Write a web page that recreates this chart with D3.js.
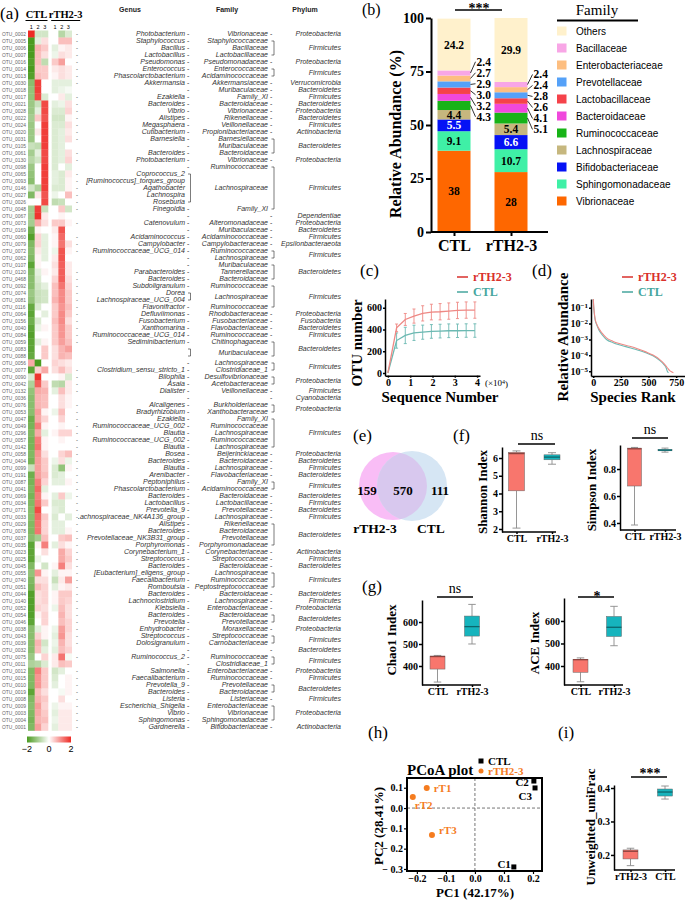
<!DOCTYPE html>
<html><head><meta charset="utf-8">
<script src="https://cdn.jsdelivr.net/npm/d3@7"></script>
<style>body{margin:0;background:#fff}svg{display:block}</style>
</head><body>
<script>
// ================= DATA =================
// ---- (a) heatmap ----
const otuIds = ["OTU_0002","OTU_0005","OTU_0006","OTU_0007","OTU_0016","OTU_0014","OTU_0013","OTU_0030","OTU_0018","OTU_0017",
"OTU_0021","OTU_0028","OTU_0022","OTU_0024","OTU_0020","OTU_0031","OTU_0105","OTU_0061","OTU_0130","OTU_0098",
"OTU_0065","OTU_0093","OTU_0146","OTU_0027","OTU_0026","OTU_0048","OTU_0067","OTU_0073","OTU_0169","OTU_0060",
"OTU_0079","OTU_0072","OTU_0062","OTU_0107","OTU_0120","OTU_0468","OTU_0092","OTU_0074","OTU_0081","OTU_0116",
"OTU_0064","OTU_0156","OTU_0040","OTU_0084","OTU_0059","OTU_0083","OTU_0088","OTU_0056","OTU_0077","OTU_0090",
"OTU_0042","OTU_0132","OTU_0036","OTU_0076","OTU_0053","OTU_0047","OTU_0049","OTU_0296","OTU_0057","OTU_0142",
"OTU_0058","OTU_0404","OTU_0099","OTU_0191","OTU_0087","OTU_0041","OTU_0069","OTU_0034","OTU_0771","OTU_0033",
"OTU_0029","OTU_0078","OTU_0037","OTU_0035","OTU_0023","OTU_0025","OTU_0045","OTU_0055","OTU_0740","OTU_0051",
"OTU_0044","OTU_0140","OTU_0052","OTU_0054","OTU_0046","OTU_0038","OTU_0043","OTU_0039","OTU_0032","OTU_0075",
"OTU_0011","OTU_0012","OTU_0015","OTU_0010","OTU_0019","OTU_0008","OTU_0009","OTU_0003","OTU_0004","OTU_0001"];
const genera = ["Photobacterium","Staphylococcus","Bacillus","Lactobacillus","Pseudomonas","Enterococcus","Phascolarctobacterium","Akkermansia","","Ezakiella",
"Bacteroides","Vibrio","Alistipes","Megasphaera","Cutibacterium","Barnesiella","","Bacteroides","Photobacterium","",
"Coprococcus_2","[Ruminococcus]_torques_group","Agathobacter","Lachnospira","Roseburia","Finegoldia","","Catenovulum","","Acidaminococcus",
"Campylobacter","Ruminococcaceae_UCG_014","","","Parabacteroides","Bacteroides","Subdoligranulum","Dorea","Lachnospiraceae_UCG_004","Flavonifractor",
"Defluviimonas","Fusobacterium","Xanthomarina","Ruminococcaceae_UCG_014","Sediminibacterium","","","","Clostridium_sensu_stricto_1","Bilophila",
"Asaia","Dialister","","Alcaligenes","Bradyrhizobium","Ezakiella","Ruminococcaceae_UCG_002","Blautia","Ruminococcaceae_UCG_002","Blautia",
"Bosea","Bacteroides","Blautia","Arenibacter","Peptoniphilus","Phascolarctobacterium","Bacteroides","Lactobacillus","Prevotella_9","Lachnospiraceae_NK4A136_group",
"Alistipes","Bacteroides","Prevotellaceae_NK3B31_group","Porphyromonas","Corynebacterium_1","Streptococcus","Bacteroides","[Eubacterium]_eligens_group","Faecalibacterium","Romboutsia",
"Bacteroides","Lachnoclostridium","Klebsiella","Bacteroides","Prevotella","Enhydrobacter","Streptococcus","Dolosigranulum","","Ruminococcus_2",
"","Salmonella","Faecalibacterium","Prevotella_9","Bacteroides","Listeria","Escherichia_Shigella","Vibrio","Sphingomonas","Gardnerella"];
const families = ["Vibrionaceae","Staphylococcaceae","Bacillaceae","Lactobacillaceae","Pseudomonadaceae","Enterococcaceae","Acidaminococcaceae","Akkermansiaceae","Muribaculaceae","Family_XI",
"Bacteroidaceae","Vibrionaceae","Rikenellaceae","Veillonellaceae","Propionibacteriaceae","Barnesiellaceae","Muribaculaceae","Bacteroidaceae","Vibrionaceae","Ruminococcaceae",
"Lachnospiraceae","Lachnospiraceae","Lachnospiraceae","Lachnospiraceae","Lachnospiraceae","Family_XI","","Alteromonadaceae","Muribaculaceae","Acidaminococcaceae",
"Campylobacteraceae","Ruminococcaceae","Lachnospiraceae","Muribaculaceae","Tannerellaceae","Bacteroidaceae","Ruminococcaceae","Lachnospiraceae","Lachnospiraceae","Ruminococcaceae",
"Rhodobacteraceae","Fusobacteriaceae","Flavobacteriaceae","Ruminococcaceae","Chitinophagaceae","Muribaculaceae","Muribaculaceae","Lachnospiraceae","Clostridiaceae_1","Desulfovibrionaceae",
"Acetobacteraceae","Veillonellaceae","","Burkholderiaceae","Xanthobacteraceae","Family_XI","Ruminococcaceae","Lachnospiraceae","Ruminococcaceae","Lachnospiraceae",
"Beijerinckiaceae","Bacteroidaceae","Lachnospiraceae","Flavobacteriaceae","Family_XI","Acidaminococcaceae","Bacteroidaceae","Lactobacillaceae","Prevotellaceae","Lachnospiraceae",
"Rikenellaceae","Bacteroidaceae","Prevotellaceae","Porphyromonadaceae","Corynebacteriaceae","Streptococcaceae","Bacteroidaceae","Lachnospiraceae","Ruminococcaceae","Peptostreptococcaceae",
"Bacteroidaceae","Lachnospiraceae","Enterobacteriaceae","Bacteroidaceae","Prevotellaceae","Moraxellaceae","Streptococcaceae","Carnobacteriaceae","","Ruminococcaceae",
"Clostridiaceae_1","Enterobacteriaceae","Ruminococcaceae","Prevotellaceae","Bacteroidaceae","Listeriaceae","Enterobacteriaceae","Vibrionaceae","Sphingomonadaceae","Bifidobacteriaceae"];
const phyla = ["Proteobacteria","Firmicutes","Firmicutes","Firmicutes","Proteobacteria","Firmicutes","Firmicutes","Verrucomicrobia","Bacteroidetes","Firmicutes",
"Bacteroidetes","Proteobacteria","Bacteroidetes","Firmicutes","Actinobacteria","Bacteroidetes","Bacteroidetes","Bacteroidetes","Proteobacteria","Firmicutes",
"Firmicutes","Firmicutes","Firmicutes","Firmicutes","Firmicutes","Firmicutes","Dependentiae","Proteobacteria","Bacteroidetes","Firmicutes",
"Epsilonbacteraeota","Firmicutes","Firmicutes","Bacteroidetes","Bacteroidetes","Bacteroidetes","Firmicutes","Firmicutes","Firmicutes","Firmicutes",
"Proteobacteria","Fusobacteria","Bacteroidetes","Firmicutes","Bacteroidetes","Bacteroidetes","Bacteroidetes","Firmicutes","Firmicutes","Proteobacteria",
"Proteobacteria","Firmicutes","Cyanobacteria","Proteobacteria","Proteobacteria","Firmicutes","Firmicutes","Firmicutes","Firmicutes","Firmicutes",
"Proteobacteria","Bacteroidetes","Firmicutes","Bacteroidetes","Firmicutes","Firmicutes","Bacteroidetes","Firmicutes","Bacteroidetes","Firmicutes",
"Bacteroidetes","Bacteroidetes","Bacteroidetes","Bacteroidetes","Actinobacteria","Firmicutes","Bacteroidetes","Firmicutes","Firmicutes","Firmicutes",
"Bacteroidetes","Firmicutes","Proteobacteria","Bacteroidetes","Bacteroidetes","Proteobacteria","Firmicutes","Firmicutes","Bacteroidetes","Firmicutes",
"Firmicutes","Proteobacteria","Firmicutes","Bacteroidetes","Bacteroidetes","Firmicutes","Proteobacteria","Proteobacteria","Proteobacteria","Actinobacteria"];
// z-scores: CTL1, CTL2, CTL3, rTH1, rTH2, rTH3
const heatValues = [
[2,-0.5,-0.5,0,-0.8,-0.4],[-2,-0.3,0.3,0,0.6,0.6],[-2,0.7,0.5,-0.3,0.1,0.2],[-2,0.6,0.3,-0.2,0.3,0.2],[-1.9,0.6,-0.7,0.5,0.9,0],
[-2,0.5,0.5,0.2,0.3,0.2],[-1.9,0.6,0.5,0.1,0.3,0.2],[-1.3,1.8,0,-0.3,-0.3,-0.3],[-1.2,1.8,0,-0.3,-0.2,-0.1],[-1.2,1.7,-0.4,0,0.2,-0.3],
[-1.1,-0.6,1.7,-0.3,-0.2,0.3],[-1.1,-0.3,1.7,-0.4,-0.4,0.4],[-1.0,0.5,1.6,-0.5,-0.5,0.1],[-1.1,0,1.8,-0.4,-0.4,0.3],[-1.1,0.2,1.8,-0.4,-0.3,0.2],
[-1.1,0,1.8,-0.4,-0.3,0.3],[-0.6,-0.7,1.8,-0.4,-0.3,0],[-1.0,-0.3,1.7,-0.4,-0.3,0.3],[-0.8,-0.5,1.7,-0.4,-0.3,0.4],[-1.1,0,1.8,-0.4,0,-0.3],
[-1.2,0,1.8,-0.3,-0.4,0.2],[-1.3,0,1.8,-0.3,-0.4,0.1],[-0.5,-0.9,1.8,-0.4,-0.4,0.1],[-1.4,0.2,1.6,-0.2,0,0.6],[0,0,1.7,-0.7,-0.6,0],
[-1.0,1.8,-0.6,0,0.5,-0.5],[-1.0,1.9,0.2,0,0.1,0],[-1.0,0.8,0.3,0.5,0.5,0.1],[-1.6,0.1,0,0.2,1.6,0],[-1.9,0.4,-0.3,0.1,1.4,0],
[-1.4,0.4,-0.3,0.1,1.3,0.3],[-1.3,0.2,-0.3,-0.2,1.6,0.1],[-1.4,0.1,-0.3,0.2,1.6,0],[-1.8,0.1,0,0.3,1.5,0.2],[-1.4,-0.3,0.1,0.2,1.5,0.2],
[-1.3,-0.4,0,0.4,1.5,0.3],[-1.3,-0.5,-0.3,0.6,1.3,0.4],[-1.1,-0.6,-0.5,0.6,1.1,0.5],[-1.2,-0.6,-0.5,0.7,1.1,0.5],[-1.7,-0.4,0,0.5,1.0,0.6],
[-1.8,0,-0.3,0.5,1.1,0.5],[-1.6,-0.4,0,0.6,1.1,0.3],[-1.8,-0.2,0.1,0.5,1.0,0.5],[-1.9,0,0,0.5,1.0,0.5],[-1.8,-0.3,0.1,0.5,0.9,0.6],
[-1.8,0,0.5,0.3,0.7,0.9],[-1.7,0,0.5,0.3,0.7,0.6],[0.8,-2,0,0.4,0.3,0.2],[-1.8,0.4,0.8,0.3,0.6,0.3],[-0.4,1.9,0,0,0.1,-0.4],
[-0.9,1.5,0.5,-0.7,-0.8,0.2],[-1.2,0.8,0.7,-0.3,0.6,0.2],[-1.3,0.7,0.6,0,0.3,0.1],[-1.3,0.7,0.6,0,0.3,0.1],[-1.3,0.9,0.1,-0.2,0.6,0],
[-1.6,0.8,0.4,0,0.4,0],[-1.5,1.2,0.1,0,0.1,0],[-1.4,0.8,-0.3,0.1,0.4,0.4],[-1.5,1.2,0.1,0,0.1,0],[-1.5,1.3,0.1,0,0,0],
[-1.4,1.0,0.3,0,0.4,0.6],[-1.5,0.9,0.5,-0.2,0.3,-0.2],[-0.6,0.9,0.5,-0.4,-1.2,0.1],[-1.6,0.9,0.6,-0.4,-0.3,0],[-1.5,1.2,0.4,-0.3,-0.3,0.1],
[-1.4,1.4,-0.3,0,0,0],[-1.5,1.2,0.1,-0.3,0.5,-0.2],[-1.4,1.3,0.5,-0.4,-0.4,0],[-1.3,1.7,0,-0.3,-0.4,0],[-1.3,1.4,0.5,-0.4,0,-0.3],
[-1.4,1.3,0.4,-0.3,-0.3,0],[-1.4,1.3,0.4,-0.3,-0.3,0.1],[-1.3,-1.0,0.6,0,0.5,0.6],[-1.8,0.1,1.2,-0.3,0.3,0.1],[-1.8,0,0.3,0,0.8,0.4],
[-1.8,-0.2,0,0,0.8,0.5],[-1.4,0,-0.5,0.1,1.2,0.3],[-1.2,1.0,0.1,-0.3,0.1,0.1],[-1.4,0.3,0.3,-0.6,0.2,0.9],[-1.5,0.6,0.4,-0.3,0.1,0.2],
[-1.9,0.3,0.4,0.1,0.5,0.5],[-1.9,0.3,0.4,0.1,0.5,0.4],[-1.9,0.4,0.3,-0.2,0.6,0.3],[-1.9,0.1,0.4,0,0.7,0.3],[-1.8,0,0.4,0,0.6,0.4],
[-1.3,-0.3,0.1,-0.2,0.9,0.4],[-1.3,0.4,0.1,-0.3,1.0,0.3],[-1.3,0.7,-0.5,-0.2,0.7,0.3],[-1.3,0.6,-0.3,-0.3,0.6,0.4],[-1.1,0,0.4,0.2,1.3,-0.1],
[-0.9,-0.8,-0.4,0.2,0.6,0.5],[-1.4,1.2,0.5,-0.5,-0.3,0],[-1.4,1.0,0.5,-0.4,0,0.1],[-1.4,1.0,0.5,-0.3,0,0.1],[-1.8,0.6,0.3,0,-0.1,0.1],
[-1.4,0.7,0.5,0,0.3,0],[-1.3,0.9,0.4,-0.2,0.1,0.1],[-1.4,0.8,0.5,-0.3,0.2,0.2],[-1.5,0.7,0.6,-0.2,0.2,0.2],[-1.4,0.9,0.4,-0.3,0.2,0.2]];
const heatGroups = ["CTL","rTH2-3"];
const heatReps = ["1","2","3"];
const colorbarTicks = [-2,0,2];

// ---- (b) stacked bars ----
const familyNames = ["Vibrionaceae","Sphingomonadaceae","Bifidobacteriaceae","Lachnospiraceae","Ruminococcaceae","Bacteroidaceae","Lactobacillaceae","Prevotellaceae","Enterobacteriaceae","Bacillaceae","Others"];
const familyColors = ["#fe6700","#3ff0a6","#0512f5","#c6b77e","#17b317","#f048dc","#f5424a","#55a1f8","#fdbe80","#f8a6e6","#fff1cc"];
const barGroups = ["CTL","rTH2-3"];
const abundCTL = [38,9.1,5.5,4.4,4.3,3.2,3.0,2.9,2.7,2.4,24.2];
const abundRTH = [28,10.7,6.6,5.4,5.1,4.1,2.6,2.8,2.4,2.4,29.9];
const abundTicks = [0,25,50,75,100];

// ---- (c) rarefaction ----
const seqDepth = [0,0.39,0.78,1.17,1.56,1.95,2.34,2.73,3.12,3.51,3.9];
const otuRTH = [0,415,492,523,548,560,563,569,575,578,578];
const otuRTHerr = [0,35,55,65,70,72,75,75,75,75,75];
const otuCTL = [0,298,345,369,375,382,385,388,388,390,390];
const otuCTLerr = [0,70,75,70,65,63,63,63,62,62,62];
const otuTicks = [0,200,400,600];
const depthTicks = [0,1,2,3,4];

// ---- (d) rank abundance (log10 relative abundance) ----
const rankRTH = [1,3,6,10,15,20,30,50,80,120,180,250,330,400,476,540,594,640,670,690,711,725];
const logAbRTH = [-0.45,-0.75,-1.05,-1.33,-1.6,-1.8,-2.0,-2.3,-2.6,-2.9,-3.12,-3.28,-3.43,-3.58,-3.78,-3.98,-4.22,-4.52,-4.78,-4.95,-5.05,-5.1];
const rankCTL = [1,3,6,10,15,20,30,50,80,120,180,250,330,400,476,540,594,640,660,670,680];
const logAbCTL = [-0.45,-0.78,-1.1,-1.38,-1.65,-1.85,-2.05,-2.38,-2.7,-3.0,-3.2,-3.36,-3.52,-3.66,-3.83,-4.03,-4.28,-4.58,-4.8,-5.0,-5.1];
const rankTicks = [0,250,500,750];
const abundLogTicks = [-1,-2,-3,-4,-5];

// ---- (e) Venn ----
const vennSets = ["rTH2-3","CTL"];
const vennCounts = [159,570,111];

// ---- (f)(g)(i) boxes: [min, q1, median, q3, max] ----
const alphaGroups = ["CTL","rTH2-3"];
const shannonBox = [[2.05,4.15,6.25,6.32,6.4],[5.65,5.9,6.05,6.18,6.3]];
const shannonTicks = [2,3,4,5,6];
const simpsonBox = [[0.385,0.674,0.95,0.955,0.96],[0.925,0.935,0.94,0.945,0.955]];
const simpsonTicks = [0.4,0.6,0.8];
const chao1Box = [[327,386,443,445,448],[500,536,579,627,680]];
const aceBox = [[330,372,428,430,436],[490,531,572,620,665]];
const richTicks = [400,500,600];
const unifracGroups = ["rTH2-3","CTL"];
const unifracBox = [[0.168,0.188,0.211,0.215,0.22],[0.367,0.376,0.388,0.397,0.406]];
const unifracTicks = [0.2,0.3,0.4];

// ---- (h) PCoA ----
const pcoaNames = ["rT1","rT2","rT3","C1","C2","C3"];
const pcoaGroup = ["rTH2-3","rTH2-3","rTH2-3","CTL","CTL","CTL"];
const pcoaPC1 = [-0.166,-0.214,-0.148,0.134,0.203,0.207];
const pcoaPC2 = [0.099,0.054,-0.133,-0.29,0.133,0.099];
const pcoaTicks = [-0.2,-0.1,0,0.1,0.2];
const pcoaYTicks = [-0.3,-0.2,-0.1,0,0.1];

// ================= DRAW =================
const SERIF = "'Liberation Serif','Times New Roman',serif";
const SANS = "'Liberation Sans',Arial,sans-serif";
const svg = d3.select("body").append("svg").attr("width",685).attr("height",902)
  .style("font-family",SERIF);
const defs = svg.append("defs");

function txt(x,y,s,o={}){
  const t = (o.parent||svg).append("text").attr("x",x).attr("y",y).text(s)
    .attr("font-size",o.size||10).attr("font-family",o.family||SERIF)
    .attr("font-weight",o.weight||"normal").attr("fill",o.fill||"#000")
    .attr("text-anchor",o.anchor||"start");
  if(o.italic) t.attr("font-style","italic");
  if(o.dy) t.attr("dy",o.dy);
  return t;
}
function rtxt(x,y,s,size){
  return svg.append("text").attr("transform",`translate(${x},${y}) rotate(-90)`)
    .attr("text-anchor","middle").attr("dy","0.35em").attr("font-size",size)
    .attr("font-weight","bold").attr("font-family",SERIF).text(s);
}
function styleAxis(g,size,sw){
  g.attr("font-family",SERIF).attr("font-size",size).attr("font-weight","bold");
  g.select(".domain").attr("stroke-width",sw);
  g.selectAll(".tick line").attr("stroke-width",sw);
  return g;
}
function hline(x1,x2,y,sw){ svg.append("line").attr("x1",x1).attr("x2",x2).attr("y1",y).attr("y2",y).attr("stroke","#000").attr("stroke-width",sw||1.5); }

// panel letters
[["(a)",0,19],["(b)",362,15],["(c)",360,276],["(d)",532,276],["(e)",353,441],["(f)",453,441],["(g)",362,592],["(h)",368,738],["(i)",558,738]]
  .forEach(d=>txt(d[1],d[2],d[0],{size:d[0]==="(b)"?16:17}));

// ---------- (a) ----------
(function(){
  const n = otuIds.length;
  const rowY = d3.scaleBand().domain(d3.range(n)).range([30.5,30.5+7*n]);
  const cy = i => rowY(i)+rowY.bandwidth()/2;
  const gX = d3.scaleBand().domain(heatGroups).range([28,71.7]).paddingInner(0.156);
  const rX = d3.scaleBand().domain(heatReps).range([0,gX.bandwidth()]);
  const col = d3.scaleLinear().domain([-2,0,2]).range(["#4b9b20","#ffffff","#ee2a24"]).clamp(true);
  const g = svg.append("g");
  heatValues.forEach((row,i)=>{
    row.forEach((v,j)=>{
      const grp = heatGroups[Math.floor(j/3)], rep = heatReps[j%3];
      g.append("rect").attr("x",gX(grp)+rX(rep)).attr("y",rowY(i))
        .attr("width",rX.bandwidth()+0.3).attr("height",rowY.bandwidth()+0.3).attr("fill",col(v));
    });
  });
  // headers
  heatGroups.forEach(grp=>{
    const cx = gX(grp)+gX.bandwidth()/2 + (grp==="CTL"?-1.5:4);
    txt(cx,18,grp,{size:10.5,weight:"bold",anchor:"middle"});
    const w = grp==="CTL"?22:29;
    hline(cx-w/2,cx+w/2,20.5,1);
    heatReps.forEach(r=>txt(gX(grp)+rX(r)+rX.bandwidth()/2,28.5,r,{size:5.5,family:SANS,anchor:"middle"}));
  });
  // OTU labels
  otuIds.forEach((id,i)=>{
    txt(2,cy(i),id,{size:4.9,family:SANS,fill:"#666",dy:"0.35em"});
    if(genera[i]) txt(76,cy(i),"-",{size:6,family:SANS,fill:"#333",dy:"0.35em"});
  });
  txt(130,12,"Genus",{size:7,family:SANS,weight:"bold",anchor:"middle",fill:"#222"});
  txt(227,12,"Family",{size:7,family:SANS,weight:"bold",anchor:"middle",fill:"#222"});
  txt(305,12,"Phylum",{size:7,family:SANS,weight:"bold",anchor:"middle",fill:"#222"});
  // genus labels are clipped on the left like in the original
  defs.append("clipPath").attr("id","genClip").append("rect").attr("x",78).attr("y",0).attr("width",300).attr("height",902);
  const genG = svg.append("g").attr("clip-path","url(#genClip)");
  // groups
  const famGroups=[];
  otuIds.forEach((id,i)=>{
    const last=famGroups[famGroups.length-1];
    if(last && families[i]!=="" && last.fam===families[i] && last.phy===phyla[i]) last.end=i;
    else famGroups.push({fam:families[i],phy:phyla[i],start:i,end:i});
  });
  const phyGroups=[];
  famGroups.forEach(fg=>{
    const last=phyGroups[phyGroups.length-1];
    if(last && last.phy===fg.phy && fg.fam!=="" && last.hasFam){ last.end=fg.end; last.groups.push(fg); }
    else phyGroups.push({phy:fg.phy,start:fg.start,end:fg.end,groups:[fg],hasFam:fg.fam!==""});
  });
  const lab = {size:7,family:SANS,italic:true,fill:"#333",dy:"0.35em"};
  const br = (x,y1,y2)=>svg.append("path").attr("d",`M${x-2.5},${y1}H${x}V${y2}H${x-2.5}`).attr("fill","none").attr("stroke","#444").attr("stroke-width",0.7);
  famGroups.forEach(fg=>{
    for(let i=fg.start;i<=fg.end;i++) if(genera[i]) txt(185,cy(i),genera[i],{...lab,anchor:"end",parent:genG});
    if(fg.end===fg.start) txt(187,cy(fg.start),"-",{...lab,italic:false});
    else br(190.5,cy(fg.start),cy(fg.end));
  });
  phyGroups.forEach(pg=>{
    pg.groups.forEach(fg=>{ if(fg.fam) txt(268,(cy(fg.start)+cy(fg.end))/2,fg.fam,{...lab,anchor:"end"}); });
    if(pg.groups.length===1) txt(270,(cy(pg.start)+cy(pg.end))/2,"-",{...lab,italic:false});
    else br(274,cy(pg.start),cy(pg.end));
    txt(341,(cy(pg.start)+cy(pg.end))/2,pg.phy,{...lab,anchor:"end"});
  });
  // colorbar
  const yb = 30.5+7*n+6;
  const cbX = d3.scaleLinear().domain([-2,2]).range([27,71]);
  const grad = defs.append("linearGradient").attr("id","cbg");
  [-2,0,2].forEach(v=>grad.append("stop").attr("offset",(v+2)/4).attr("stop-color",col(v)));
  svg.append("rect").attr("x",cbX(-2)).attr("y",yb).attr("width",cbX(2)-cbX(-2)).attr("height",6).attr("fill","url(#cbg)");
  colorbarTicks.forEach(v=>txt(cbX(v),yb+15,v<0?"\u2212"+Math.abs(v):String(v),{size:9,family:SANS,anchor:"middle"}));
})();

// ---------- (b) ----------
(function(){
  const y = d3.scaleLinear().domain([0,100]).range([232,18]);
  const x = d3.scalePoint().domain(barGroups).range([454,511]);
  const bw = 33;
  const stacks = [abundCTL,abundRTH];
  const fmt = v => (v%1===0 && v>=10) ? String(v) : v.toFixed(1);
  barGroups.forEach((grp,gi)=>{
    let cum=0; const mids=[];
    stacks[gi].forEach((v,k)=>{
      svg.append("rect").attr("x",x(grp)-bw/2).attr("y",y(cum+v)).attr("width",bw)
        .attr("height",y(cum)-y(cum+v)).attr("fill",familyColors[k]);
      mids.push(y(cum+v/2)); cum+=v;
    });
    [0,1,2,3,10].forEach(k=>txt(x(grp),mids[k],fmt(stacks[gi][k]),{size:11.5,weight:"bold",anchor:"middle",dy:"0.35em",fill:k===2?"#fff":"#000"}));
    const outs=[9,8,7,6,5,4];
    const c = d3.mean(outs,k=>mids[k]) + (gi===0?1:2.5);
    outs.forEach((k,i)=>{
      const ly = c + (i-2.5)*11, xr = x(grp)+bw/2;
      svg.append("line").attr("x1",xr).attr("y1",mids[k]).attr("x2",xr+5).attr("y2",ly).attr("stroke","#000").attr("stroke-width",0.8);
      txt(xr+6,ly,fmt(stacks[gi][k]),{size:11.5,weight:"bold",dy:"0.35em"});
    });
  });
  const ax = svg.append("g").attr("transform","translate(431,0)")
    .call(d3.axisLeft(y).tickValues(abundTicks).tickFormat(d3.format("d")).tickSize(5).tickSizeOuter(0).tickPadding(2));
  styleAxis(ax,14,2);
  const bx = svg.append("g").attr("transform","translate(0,232)")
    .call(d3.axisBottom(x).tickSize(4).tickSizeOuter(0).tickPadding(4));
  styleAxis(bx,16,2);
  bx.select(".domain").attr("d","M431,0H548");
  rtxt(395,134,"Relative Abundance (%)",16);
  txt(479,13,"***",{size:14,weight:"bold",anchor:"middle"});
  hline(455,502,10,1.5);
  // legend
  txt(597,15,"Family",{size:15,anchor:"middle"});
  hline(557,638,20.5,1.8);
  familyNames.slice().reverse().forEach((nm,i)=>{
    const k = familyNames.length-1-i, yy = 31+i*17;
    svg.append("rect").attr("x",557).attr("y",yy-4.5).attr("width",9.5).attr("height",9).attr("fill",familyColors[k]);
    txt(576,yy,nm,{size:10,family:SANS,dy:"0.35em"});
  });
})();

// ---------- (c) ----------
const RED="#d9302c", TEAL="#46a69e", REDL="#ee8985", TEALL="#6cb9b2";
(function(){
  const x = d3.scaleLinear().domain([-0.13,4.13]).range([385,480]);
  const y = d3.scaleLinear().domain([-25,680]).range([375.7,299]);
  [[otuCTL,otuCTLerr,TEALL],[otuRTH,otuRTHerr,REDL]].forEach(([v,e,c])=>{
    svg.append("path").datum(seqDepth.map((d,i)=>[d,v[i]]))
      .attr("d",d3.line().x(d=>x(d[0])).y(d=>y(d[1]))).attr("fill","none").attr("stroke",c).attr("stroke-width",1.3);
    seqDepth.forEach((d,i)=>{ if(!e[i]) return;
      const xx=x(d);
      svg.append("path").attr("d",`M${xx},${y(v[i]-e[i])}V${y(v[i]+e[i])}M${xx-1.5},${y(v[i]-e[i])}h3M${xx-1.5},${y(v[i]+e[i])}h3`)
        .attr("stroke",c).attr("stroke-width",0.9).attr("fill","none");
    });
  });
  styleAxis(svg.append("g").attr("transform","translate(385,0)").call(d3.axisLeft(y).tickValues(otuTicks).tickFormat(d3.format("d")).tickSize(2).tickSizeOuter(0).tickPadding(1)),10,1.5);
  styleAxis(svg.append("g").attr("transform","translate(0,375.7)").call(d3.axisBottom(x).tickValues(depthTicks).tickFormat(d3.format("d")).tickSize(2).tickSizeOuter(0).tickPadding(1)),10,1.5);
  const t = txt(485,386,"(\u00d710",{size:9});
  t.append("tspan").attr("dy","-0.4em").attr("font-size",6).text("4");
  t.append("tspan").attr("dy","0.4em").text(")");
  txt(440,402,"Sequence Number",{size:15,weight:"bold",anchor:"middle"});
  rtxt(357,343,"OTU number",15);
  [["rTH2-3",RED,277],["CTL",TEAL,292]].forEach(([s,c,yy])=>{
    svg.append("line").attr("x1",457).attr("x2",468).attr("y1",yy).attr("y2",yy).attr("stroke",c).attr("stroke-width",1.5);
    txt(473,yy,s,{size:12,weight:"bold",fill:c,dy:"0.35em"});
  });
})();

// ---------- (d) ----------
(function(){
  const x = d3.scaleLinear().domain([-20,830]).range([591,685]);
  const y = d3.scaleLog().domain([Math.pow(10,-5.3),Math.pow(10,-0.45)]).range([376,299]);
  [[rankCTL,logAbCTL,TEALL],[rankRTH,logAbRTH,REDL]].forEach(([r,l,c])=>{
    svg.append("path").datum(r.map((d,i)=>[d,Math.pow(10,l[i])]))
      .attr("d",d3.line().x(d=>x(d[0])).y(d=>y(d[1])).curve(d3.curveMonotoneX)).attr("fill","none").attr("stroke",c).attr("stroke-width",1.1);
  });
  const ay = svg.append("g").attr("transform","translate(591,0)")
    .call(d3.axisLeft(y).tickValues(abundLogTicks.map(e=>Math.pow(10,e))).tickSize(2).tickSizeOuter(0).tickPadding(1));
  styleAxis(ay,10,1.5);
  ay.selectAll(".tick text").each(function(d){
    const t=d3.select(this); const e=Math.round(Math.log10(d));
    t.text(null); t.append("tspan").text("10");
    t.append("tspan").attr("dy","-0.45em").attr("font-size",7).text("\u2212"+Math.abs(e));
  });
  styleAxis(svg.append("g").attr("transform","translate(0,376)").call(d3.axisBottom(x).tickValues(rankTicks).tickFormat(d3.format("d")).tickSize(2).tickSizeOuter(0).tickPadding(1)),10,1.5);
  txt(633,402,"Species Rank",{size:15,weight:"bold",anchor:"middle"});
  rtxt(563,337,"Relative Abundance",15);
  [["rTH2-3",RED,277],["CTL",TEAL,292]].forEach(([s,c,yy])=>{
    svg.append("line").attr("x1",622).attr("x2",633).attr("y1",yy).attr("y2",yy).attr("stroke",c).attr("stroke-width",1.5);
    txt(638,yy,s,{size:12,weight:"bold",fill:c,dy:"0.35em"});
  });
})();

// ---------- (e) ----------
(function(){
  const cA={x:393,y:486,r:34}, cB={x:412,y:486,r:35};
  defs.append("clipPath").attr("id","clipA").append("circle").attr("cx",cA.x).attr("cy",cA.y).attr("r",cA.r);
  svg.append("circle").attr("cx",cA.x).attr("cy",cA.y).attr("r",cA.r).attr("fill","#f9bdf6");
  svg.append("circle").attr("cx",cB.x).attr("cy",cB.y).attr("r",cB.r).attr("fill","#d6e6f4");
  svg.append("circle").attr("cx",cB.x).attr("cy",cB.y).attr("r",cB.r).attr("fill","#d8c8ee").attr("clip-path","url(#clipA)");
  const xs=[367,403,440];
  vennCounts.forEach((v,i)=>txt(xs[i],490,String(v),{size:13,weight:"bold",anchor:"middle",dy:"0.35em"}));
  txt(375,533,vennSets[0],{size:13.5,weight:"bold",anchor:"middle"});
  txt(431,533,vennSets[1],{size:13.5,weight:"bold",anchor:"middle"});
})();

// ---------- box helper ----------
const BOXC=["#f8766d","#16b4bd"];
function boxes(x,y,stats,cats,bw){
  cats.forEach((c,i)=>{
    const [mn,q1,md,q3,mx]=stats[i], cx=x(c), col=BOXC[i];
    svg.append("path").attr("d",`M${cx},${y(mx)}V${y(q3)}M${cx},${y(q1)}V${y(mn)}M${cx-bw/4},${y(mx)}h${bw/2}M${cx-bw/4},${y(mn)}h${bw/2}`)
      .attr("stroke","#8a8a8a").attr("stroke-width",0.9).attr("fill","none");
    svg.append("rect").attr("x",cx-bw/2).attr("y",y(q3)).attr("width",bw).attr("height",Math.max(1,y(q1)-y(q3)))
      .attr("fill",col).attr("stroke","#666").attr("stroke-width",0.5);
    svg.append("line").attr("x1",cx-bw/2).attr("x2",cx+bw/2).attr("y1",y(md)).attr("y2",y(md))
      .attr("stroke",d3.color(col).darker(1.6)).attr("stroke-width",1.3);
  });
}
function boxAxes(x,y,ax,ay,xEnd,ticks,fmt){
  const a = svg.append("g").attr("transform",`translate(${ax},0)`)
    .call(d3.axisLeft(y).tickValues(ticks).tickFormat(fmt).tickSize(3).tickSizeOuter(0).tickPadding(1));
  styleAxis(a,10,1.5);
  const b = svg.append("g").attr("transform",`translate(0,${ay})`)
    .call(d3.axisBottom(x).tickSize(2).tickSizeOuter(0).tickPadding(1));
  styleAxis(b,10,1.5);
  b.select(".domain").attr("d",`M${ax},0H${xEnd}`);
}

// ---------- (f) ----------
(function(){
  const x1 = d3.scalePoint().domain(alphaGroups).range([516.5,552]);
  const y1 = d3.scaleLinear().domain([1.83,6.62]).range([532,447]);
  boxes(x1,y1,shannonBox,alphaGroups,16);
  boxAxes(x1,y1,502,532,556,shannonTicks,d3.format("d"));
  rtxt(482,492,"Shannon Index",13);
  txt(537,440,"ns",{size:14,anchor:"middle"}); hline(518,555,444,1.5);

  const x2 = d3.scalePoint().domain(alphaGroups).range([634.5,665]);
  const y2 = d3.scaleLinear().domain([0.348,0.978]).range([530,445]);
  boxes(x2,y2,simpsonBox,alphaGroups,14);
  boxAxes(x2,y2,620,530,676,simpsonTicks,d3.format(".1f"));
  rtxt(591,490,"Simpson Index",13);
  txt(650,434,"ns",{size:14,anchor:"middle"}); hline(632,668,438,1.5);
})();

// ---------- (g) ----------
(function(){
  const x1 = d3.scalePoint().domain(alphaGroups).range([437.5,472]);
  const y1 = d3.scaleLinear().domain([313.6,700]).range([685,600]);
  boxes(x1,y1,chao1Box,alphaGroups,15);
  boxAxes(x1,y1,422,685,481,richTicks,d3.format("d"));
  rtxt(391,640,"Chao1 Index",13);
  txt(455,593,"ns",{size:14,anchor:"middle"}); hline(437,473,597,1.5);

  const x2 = d3.scalePoint().domain(alphaGroups).range([580.5,614]);
  const y2 = d3.scaleLinear().domain([315.6,702]).range([685,598]);
  boxes(x2,y2,aceBox,alphaGroups,15);
  boxAxes(x2,y2,564,685,623,richTicks,d3.format("d"));
  rtxt(534,643,"ACE Index",13);
  txt(597,601,"*",{size:14,weight:"bold",anchor:"middle"}); hline(578,614,597,1.5);
})();

// ---------- (h) ----------
(function(){
  const x = d3.scaleLinear().domain([-0.234,0.231]).range([407,542]);
  const y = d3.scaleLinear().domain([-0.31,0.148]).range([871,778]);
  svg.append("line").attr("x1",x(0)).attr("x2",x(0)).attr("y1",778).attr("y2",871).attr("stroke","#777").attr("stroke-dasharray","3,2");
  svg.append("line").attr("x1",407).attr("x2",542).attr("y1",y(0)).attr("y2",y(0)).attr("stroke","#777").attr("stroke-dasharray","3,2");
  svg.append("rect").attr("x",407).attr("y",778).attr("width",135).attr("height",93).attr("fill","none").attr("stroke","#000").attr("stroke-width",2);
  const fx = d => d<0?"\u2212"+Math.abs(d).toFixed(1):d.toFixed(1);
  const fy = d => d<0?"\u2212 "+Math.abs(d).toFixed(1):d.toFixed(1);
  const ax = svg.append("g").attr("transform","translate(0,871)").call(d3.axisBottom(x).tickValues(pcoaTicks).tickFormat(fx).tickSize(3).tickSizeOuter(0).tickPadding(1));
  styleAxis(ax,10,1.2); ax.select(".domain").remove();
  const ay = svg.append("g").attr("transform","translate(407,0)").call(d3.axisLeft(y).tickValues(pcoaYTicks).tickFormat(fy).tickSize(3).tickSizeOuter(0).tickPadding(1));
  styleAxis(ay,10,1.2); ay.select(".domain").remove();
  const ORANGE="#f57c1f";
  const off = {rT1:[7,0,"start"],rT2:[2,8,"start"],rT3:[7,-5,"start"],C1:[-3,-3,"end"],C2:[-5,1,"end"],C3:[-3,8,"end"]};
  pcoaNames.forEach((nm,i)=>{
    const px=x(pcoaPC1[i]), py=y(pcoaPC2[i]), isR=pcoaGroup[i]==="rTH2-3";
    if(isR) svg.append("circle").attr("cx",px).attr("cy",py).attr("r",3).attr("fill",ORANGE);
    else svg.append("rect").attr("x",px-2.5).attr("y",py-2.5).attr("width",5).attr("height",5).attr("fill","#000");
    const o=off[nm];
    txt(px+o[0],py+o[1],nm,{size:11,weight:"bold",anchor:o[2],fill:isR?ORANGE:"#000",dy:"0.35em"});
  });
  svg.append("rect").attr("x",478.5).attr("y",758.5).attr("width",5).attr("height",5).attr("fill","#000");
  txt(488,761,"CTL",{size:11,weight:"bold",dy:"0.35em"});
  svg.append("circle").attr("cx",481).attr("cy",771).attr("r",2.5).attr("fill",ORANGE);
  txt(488,771,"rTH2-3",{size:11,weight:"bold",fill:ORANGE,dy:"0.35em"});
  txt(407,775,"PCoA plot",{size:15,weight:"bold"});
  txt(475,897,"PC1 (42.17%)",{size:13,weight:"bold",anchor:"middle"});
  rtxt(378,826,"PC2 (28.41%)",13);
})();

// ---------- (i) ----------
(function(){
  const x = d3.scalePoint().domain(unifracGroups).range([630.5,665]);
  const y = d3.scaleLinear().domain([0.155,0.409]).range([870,785]);
  boxes(x,y,unifracBox,unifracGroups,15);
  boxAxes(x,y,614,870,675,unifracTicks,d3.format(".1f"));
  rtxt(590,827,"Unweighted_uniFrac",13);
  txt(650,778,"***",{size:14,weight:"bold",anchor:"middle"}); hline(631,667,777,1.5);
})();
</script>
</body></html>
